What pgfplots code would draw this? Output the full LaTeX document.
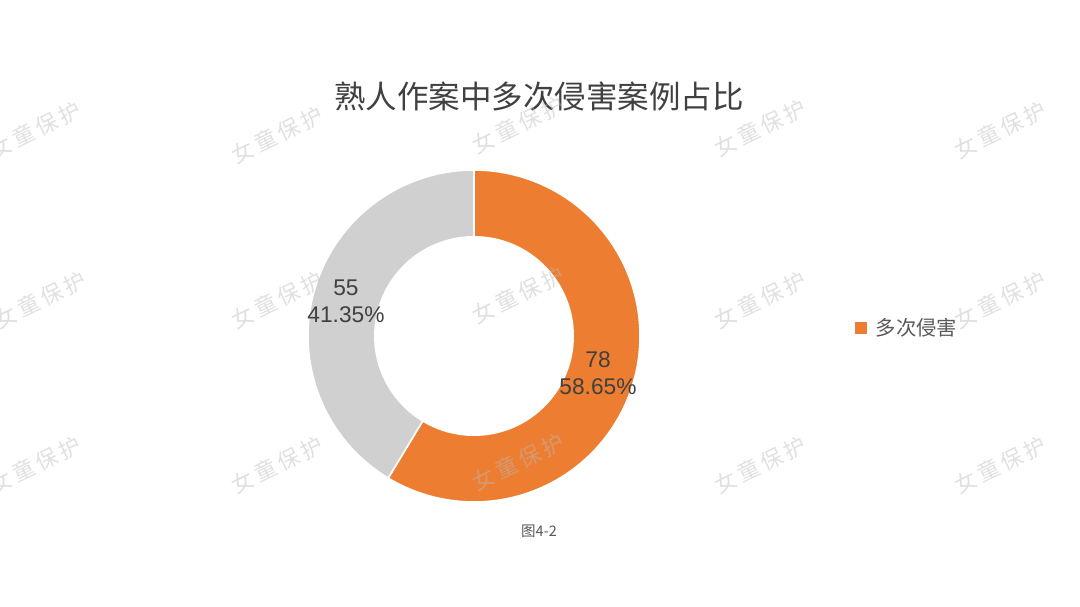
\documentclass[border=0pt]{standalone}
\usepackage{pgfplots}
\pgfplotsset{compat=1.18}
\usepackage{fontspec}
\setmainfont{Liberation Sans}
\newfontfamily\cjk{Noto Sans CJK SC}
\definecolor{cA}{HTML}{ED7D31}
\definecolor{cB}{HTML}{D0D0D0}
\definecolor{txt}{HTML}{404040}
\definecolor{leg}{HTML}{595959}
\definecolor{wm}{HTML}{BBBBBB}
% data
\def\va{78}
\def\vb{55}
\pgfmathsetmacro\total{\va+\vb}
\pgfmathsetmacro\angA{\va/\total*360}
\pgfmathsetmacro\endA{90-\angA}
\pgfmathsetmacro\pA{\va/\total*100}
\pgfmathsetmacro\pB{\vb/\total*100}
\def\cx{474}
\def\cy{271}
\def\rO{166}
\def\rI{100}
\tikzset{wmk/.style={rotate=26, text=wm, text opacity=0.45, font=\cjk\fontsize{11}{12}\selectfont}}
\def\wmtext{女\,童\,保\,护}
\begin{document}
\begin{tikzpicture}
\begin{axis}[scale only axis, width=540bp, height=303.5bp,
  xmin=0, xmax=1080, ymin=0, ymax=607, hide axis, clip=false,
  legend style={draw=none, fill=none, at={(axis cs:855,279)}, anchor=west,
    font=\cjk\fontsize{10.2}{12}\selectfont, text=leg, inner sep=0pt},
  legend image code/.code={\fill[cA] (0bp,-2.6bp) rectangle (5.2bp,2.6bp); \path (7.4bp,0bp);},
  legend cell align=left]
% orange slice
\addplot[fill=cA, draw=white, line width=0.8pt, domain=\endA:90, samples=150, variable=\t]
  ({\cx+\rO*cos(t)}, {\cy+\rO*sin(t)}) -- (axis cs:\cx,\cy) -- cycle;
\addlegendentry{多次侵害}
% gray slice
\addplot[fill=cB, draw=white, line width=0.8pt, domain=90:\endA+360, samples=120, variable=\t, forget plot]
  ({\cx+\rO*cos(t)}, {\cy+\rO*sin(t)}) -- (axis cs:\cx,\cy) -- cycle;
% hole
\addplot[fill=white, draw=none, domain=0:360, samples=120, variable=\t, forget plot]
  ({\cx+\rI*cos(t)}, {\cy+\rI*sin(t)}) -- cycle;
% labels
\node[align=center, text=txt, font=\fontsize{11.4}{13.6}\selectfont] at (axis cs:346,306)
  {\vb\\\pgfmathprintnumber[fixed, fixed zerofill, precision=2, assume math mode=true]{\pB}\%};
\node[align=center, text=txt, font=\fontsize{11.4}{13.6}\selectfont] at (axis cs:598,234)
  {\va\\\pgfmathprintnumber[fixed, fixed zerofill, precision=2, assume math mode=true]{\pA}\%};
% title
\node[text=txt, font=\cjk\fontsize{15.8}{19}\selectfont] at (axis cs:539,510) {熟人作案中多次侵害案例占比};
% caption
\node[text=leg, font=\cjk\fontsize{7.3}{9}\selectfont] at (axis cs:539,76) {图4-2};
% watermarks
\node[wmk] at (axis cs:35,477) {\wmtext};
\node[wmk] at (axis cs:277,472) {\wmtext};
\node[wmk] at (axis cs:518,482) {\wmtext};
\node[wmk] at (axis cs:760,479) {\wmtext};
\node[wmk] at (axis cs:1000,477) {\wmtext};
\node[wmk] at (axis cs:40,307) {\wmtext};
\node[wmk] at (axis cs:277,307) {\wmtext};
\node[wmk] at (axis cs:518,312) {\wmtext};
\node[wmk] at (axis cs:760,307) {\wmtext};
\node[wmk] at (axis cs:1000,307) {\wmtext};
\node[wmk] at (axis cs:35,142) {\wmtext};
\node[wmk] at (axis cs:277,142) {\wmtext};
\node[wmk] at (axis cs:518,145) {\wmtext};
\node[wmk] at (axis cs:760,142) {\wmtext};
\node[wmk] at (axis cs:1000,142) {\wmtext};
\end{axis}
\pgfresetboundingbox
\path (current axis.south west) rectangle (current axis.north east);
\end{tikzpicture}
\end{document}
